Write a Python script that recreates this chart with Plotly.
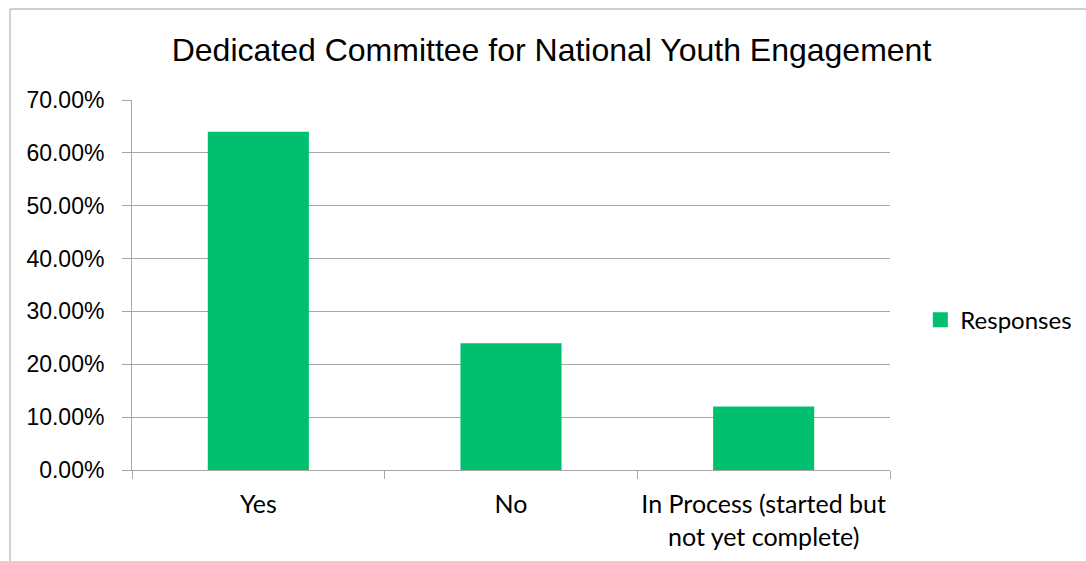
import plotly.graph_objects as go

# Survey responses
categories = ["Yes", "No", "In Process (started but<br>not yet complete)"]
shares = [0.64, 0.24, 0.12]
series_name = "Responses"
y_ticks = [0.0, 0.1, 0.2, 0.3, 0.4, 0.5, 0.6, 0.7]

GREEN = "#00BF6F"
GRID = "#a6a6a6"

fig = go.Figure()
fig.add_trace(go.Bar(
    x=categories, y=shares, name=series_name,
    marker=dict(color=GREEN, line=dict(width=0)),
    showlegend=False,
))
# legend entry drawn as a square swatch
fig.add_trace(go.Scatter(
    x=[None], y=[None], mode="markers", name=series_name,
    marker=dict(symbol="square", size=15, color=GREEN),
    showlegend=True,
))

fig.update_layout(
    width=1086, height=561,
    margin=dict(l=132, r=196, t=100, b=91, autoexpand=False),
    paper_bgcolor="white", plot_bgcolor="white",
    bargap=0.6,
    title=dict(
        text="Dedicated Committee for National Youth Engagement",
        font=dict(family="Liberation Sans, Arial", size=32, color="black"),
        x=(168 + 935) / 2 / 1086, xanchor="center",
        y=1 - 50 / 561, yanchor="middle", yref="container",
    ),
    legend=dict(
        x=1.04, y=0.405, xanchor="left", yanchor="middle",
        font=dict(family="Lato", size=24, color="black"),
        bgcolor="rgba(0,0,0,0)",
    ),
    shapes=[dict(
        type="rect", xref="paper", yref="paper",
        x0=(10 - 132) / 758, x1=1.4, y0=-0.5, y1=(470 - 9) / 370,
        line=dict(color="#a0a0a0", width=1), fillcolor="rgba(0,0,0,0)",
        layer="below",
    )],
)

fig.update_xaxes(
    type="category", tickson="boundaries",
    showgrid=False, showline=True, linecolor=GRID, linewidth=1,
    ticks="outside", ticklen=8, tickcolor=GRID,
    tickfont=dict(family="Lato", size=25, color="black"),
    tickangle=0, automargin=False,
    ticklabelstandoff=12,
    fixedrange=True,
)
fig.update_yaxes(
    range=[0, 0.7], tickvals=y_ticks, tickformat=".2%",
    showgrid=True, gridcolor=GRID, gridwidth=1,
    showline=True, linecolor=GRID, linewidth=1,
    ticks="outside", ticklen=9, tickcolor=GRID,
    tickfont=dict(family="Liberation Sans, Arial", size=23, color="black"),
    ticklabelstandoff=13, automargin=False,
    zeroline=False, fixedrange=True,
)

fig.write_html("out.html")
